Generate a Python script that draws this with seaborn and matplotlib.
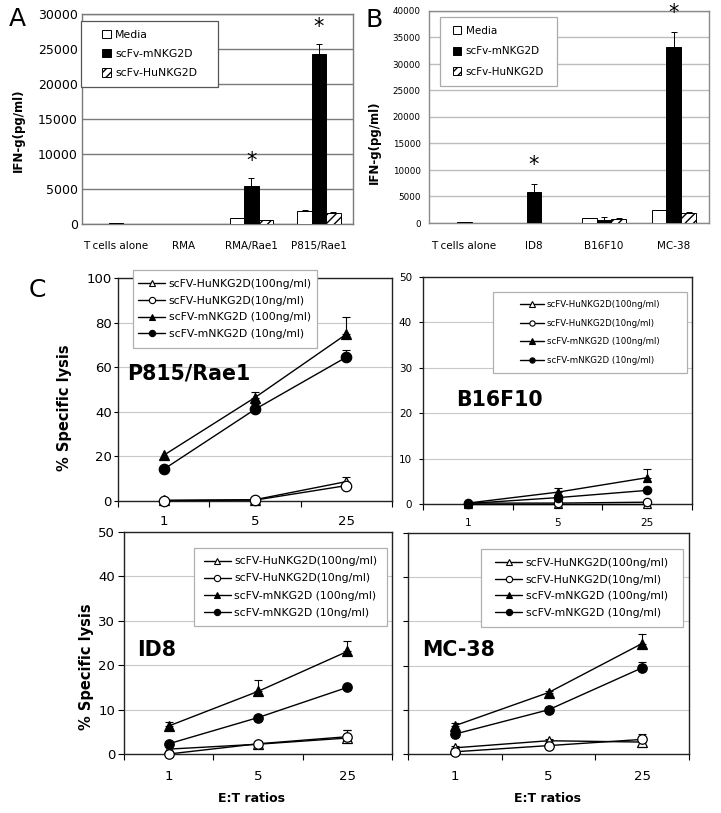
import numpy as np
import pandas as pd
import matplotlib
matplotlib.use("Agg")
import matplotlib.pyplot as plt
import seaborn as sns
from matplotlib.patches import Rectangle, Patch
from matplotlib.lines import Line2D
from matplotlib.ticker import FixedLocator, MultipleLocator

# ---------------- Data ----------------
groups = ["Media", "scFv-mNKG2D", "scFv-HuNKG2D"]

cats_A = ["T cells alone", "RMA", "RMA/Rae1", "P815/Rae1"]
media_A = [20, 10, 850, 1850]
media_A_err = [0, 0, 60, 80]
mNK_A = [90, 70, 5400, 24300]
mNK_A_err = [0, 0, 1130, 1450]
huNK_A = [10, 10, 570, 1600]
huNK_A_err = [0, 0, 70, 100]
sig_A = [False, False, True, True]

cats_B = ["T cells alone", "ID8", "B16F10", "MC-38"]
media_B = [20, 30, 880, 2400]
media_B_err = [0, 0, 60, 80]
mNK_B = [100, 5830, 560, 33300]
mNK_B_err = [0, 1500, 500, 2800]
huNK_B = [10, 30, 800, 1900]
huNK_B_err = [0, 0, 80, 120]
sig_B = [False, True, False, True]

ratios = ["1", "5", "25"]
series_labels = ["scFV-HuNKG2D(100ng/ml)", "scFV-HuNKG2D(10ng/ml)",
                 "scFV-mNKG2D (100ng/ml)", "scFV-mNKG2D (10ng/ml)"]

P815_hu100 = [0.3, 0.6, 8.7]
P815_hu100_err = [0, 0, 2.2]
P815_hu10 = [0.2, 0.4, 6.9]
P815_hu10_err = [0, 0, 0]
P815_m100 = [20.5, 46.4, 74.8]
P815_m100_err = [0, 2.6, 7.6]
P815_m10 = [14.2, 41.1, 64.5]
P815_m10_err = [0, 2.3, 3.0]

B16_hu100 = [0.1, 0.1, 0.1]
B16_hu100_err = [0, 0, 0]
B16_hu10 = [0.2, 0.2, 0.4]
B16_hu10_err = [0, 0, 0]
B16_m100 = [0.2, 2.6, 5.8]
B16_m100_err = [0, 1.0, 2.0]
B16_m10 = [0.1, 1.4, 3.0]
B16_m10_err = [0, 0.6, 0]

ID8_hu100 = [1.1, 2.2, 3.6]
ID8_hu100_err = [0, 0.5, 1.8]
ID8_hu10 = [0.0, 2.3, 3.9]
ID8_hu10_err = [0, 0.6, 1.5]
ID8_m100 = [6.3, 14.1, 23.1]
ID8_m100_err = [0.9, 2.5, 2.4]
ID8_m10 = [2.3, 8.2, 15.0]
ID8_m10_err = [0, 0, 0]

MC38_hu100 = [1.4, 3.0, 2.7]
MC38_hu100_err = [0.5, 0.4, 0.6]
MC38_hu10 = [0.5, 1.9, 3.3]
MC38_hu10_err = [0, 0, 1.2]
MC38_m100 = [6.4, 13.9, 25.0]
MC38_m100_err = [0.6, 0.4, 2.1]
MC38_m10 = [4.5, 10.0, 19.5]
MC38_m10_err = [0, 0, 1.4]

# ---------------- Style ----------------
sns.set_theme(style="ticks")
plt.rcParams["font.family"] = ["DejaVu Sans"]
plt.rcParams["text.color"] = "black"
plt.rcParams["axes.labelcolor"] = "black"
plt.rcParams["xtick.color"] = "black"
plt.rcParams["ytick.color"] = "black"
plt.rcParams["hatch.linewidth"] = 1.0

W, H = 721, 813
fig = plt.figure(figsize=(W / 100, H / 100), dpi=100)


def add_ax(box):
    L, T, R, B = box
    return fig.add_axes([L / W, 1 - B / H, (R - L) / W, (B - T) / H])


def frac(box, px, py):
    L, T, R, B = box
    return (px - L) / (R - L), (B - py) / (B - T)


def framed_legend(ax, box, rect, handles, labels, fontsize, labelspacing,
                  handlelength, handletextpad, edgecolor, handleheight=0.7):
    x0, y0, x1, y1 = rect
    fx0, fy1 = frac(box, x0, y0)
    fx1, fy0 = frac(box, x1, y1)
    ax.add_patch(Rectangle((fx0, fy0), fx1 - fx0, fy1 - fy0, transform=ax.transAxes,
                           facecolor="white", edgecolor=edgecolor, lw=0.9,
                           zorder=4, clip_on=False))
    leg = ax.legend(handles, labels, loc="center",
                    bbox_to_anchor=((fx0 + fx1) / 2, (fy0 + fy1) / 2),
                    bbox_transform=ax.transAxes, frameon=False, fontsize=fontsize,
                    labelspacing=labelspacing, handlelength=handlelength,
                    handleheight=handleheight, handletextpad=handletextpad,
                    borderpad=0)
    leg.set_zorder(5)
    return leg


def bar_panel(box, cats, vals, errs, sig, ymax, ytick_size, grid_color,
              spine_color, star_frac, xpad, ypad):
    ax = add_ax(box)
    rows = []
    for g, v in zip(groups, vals):
        for c, x in zip(cats, v):
            rows.append({"cat": c, "group": g, "val": x})
    df = pd.DataFrame(rows)
    sns.barplot(data=df, x="cat", y="val", hue="group", order=cats, hue_order=groups,
                palette=["white", "black", "white"], saturation=1, edgecolor="black",
                linewidth=0.7, width=0.64, errorbar=None, legend=False, ax=ax, zorder=3)
    bars = sorted(ax.patches, key=lambda p: p.get_x())
    n = len(cats)
    for ci in range(n):
        for gi in range(3):
            p = bars[ci * 3 + gi]
            if gi == 2:
                p.set_hatch("////")
            e = errs[gi][ci]
            if e > 0:
                xc = p.get_x() + p.get_width() / 2
                ax.errorbar([xc], [vals[gi][ci]], yerr=[[0], [e]], fmt="none",
                            ecolor="black", elinewidth=0.7, capsize=2.5,
                            capthick=0.7, zorder=4)
        if sig[ci]:
            p = bars[ci * 3 + 1]
            xc = p.get_x() + p.get_width() / 2
            ax.text(xc, vals[1][ci] + errs[1][ci] + star_frac * ymax, "*",
                    ha="center", va="center", fontsize=15)
    ax.set_ylim(0, ymax)
    ax.yaxis.set_major_locator(MultipleLocator(5000))
    ax.yaxis.grid(True, color=grid_color, lw=1.0)
    ax.set_axisbelow(True)
    for s in ax.spines.values():
        s.set_color(spine_color)
        s.set_linewidth(1.0)
    ax.set_xlabel("")
    ax.set_ylabel("")
    ax.tick_params(axis="x", length=0, pad=xpad, labelsize=7.5)
    ax.tick_params(axis="y", length=0, pad=ypad, labelsize=ytick_size)
    return ax


bar_handles = [Patch(facecolor="white", edgecolor="black", lw=0.7),
               Patch(facecolor="black", edgecolor="black", lw=0.7),
               Patch(facecolor="white", edgecolor="black", lw=0.7, hatch="////")]

# ---------------- Panel A ----------------
boxA = (82, 14, 353, 224)
axA = bar_panel(boxA, cats_A, [media_A, mNK_A, huNK_A],
                [media_A_err, mNK_A_err, huNK_A_err], sig_A, 30000, 9,
                "#7a7a7a", "#7a7a7a", 0.08, 12, 3)
axA.set_ylabel("IFN-g(pg/ml)", fontsize=8.5, fontweight="bold")
axA.yaxis.set_label_coords(*frac(boxA, 25, 130))
framed_legend(axA, boxA, (81, 21, 218, 87), bar_handles, groups, 7.8, 0.85,
              0.8, 0.4, "#555555", handleheight=0.8)

# ---------------- Panel B ----------------
boxB = (429, 11, 709, 223)
axB = bar_panel(boxB, cats_B, [media_B, mNK_B, huNK_B],
                [media_B_err, mNK_B_err, huNK_B_err], sig_B, 40000, 6.3,
                "#bdbdbd", "#8a8a8a", 0.09, 13, 6)
axB.set_ylabel("IFN-g(pg/ml)", fontsize=8.5, fontweight="bold")
axB.yaxis.set_label_coords(*frac(boxB, 381, 142))
framed_legend(axB, boxB, (440, 17, 557, 86), bar_handles, groups, 7.5, 1.0,
              0.8, 0.4, "#aaaaaa", handleheight=0.8)

fig.text(17 / W, 1 - 19 / H, "A", fontsize=18, ha="center", va="center")
fig.text(374 / W, 1 - 20 / H, "B", fontsize=18, ha="center", va="center")
fig.text(37 / W, 1 - 290 / H, "C", fontsize=18, ha="center", va="center")

# ---------------- Panel C ----------------
markers = ["^", "o", "^", "o"]
faces = ["white", "white", "black", "black"]


def lysis_panel(box, vals, errs, ymax, ystep, ms, title, title_pos, title_size,
                tick_size, xpad, leg_rect, leg_size, leg_spacing, leg_hl, leg_ms,
                ytick_len, ypad, show_ylabels=True):
    ax = add_ax(box)
    for v, e, mk, fc in zip(vals, errs, markers, faces):
        sns.pointplot(x=ratios, y=v, order=ratios, color="black", markers=mk,
                      linestyles="-", errorbar=None, markersize=ms,
                      markerfacecolor=fc, markeredgecolor="black",
                      markeredgewidth=0.9, linewidth=1.0, clip_on=False,
                      zorder=3, ax=ax)
        idx = [i for i in range(len(ratios)) if e[i] > 0]
        if idx:
            ax.errorbar(idx, [v[i] for i in idx], yerr=[[0] * len(idx), [e[i] for i in idx]],
                        fmt="none", ecolor="black", elinewidth=0.8, capsize=3,
                        capthick=0.8, zorder=2.5)
    ax.set_xlim(-0.5, len(ratios) - 0.5)
    ax.set_ylim(0, ymax)
    ax.yaxis.set_major_locator(MultipleLocator(ystep))
    ax.yaxis.grid(True, color="#c8c8c8", lw=0.8)
    ax.set_axisbelow(True)
    for s in ax.spines.values():
        s.set_color("#222222")
        s.set_linewidth(1.0)
    ax.set_xlabel("")
    ax.set_ylabel("")
    ax.xaxis.set_minor_locator(FixedLocator([-0.5 + i for i in range(len(ratios) + 1)]))
    ax.tick_params(axis="x", which="major", length=0, pad=xpad, labelsize=tick_size)
    ax.tick_params(axis="x", which="minor", length=4, width=0.8, direction="out",
                   bottom=True)
    ax.tick_params(axis="y", which="major", length=ytick_len, width=0.8,
                   direction="out", pad=ypad, labelsize=tick_size,
                   labelleft=show_ylabels, left=True)
    tx, ty = frac(box, *title_pos)
    ax.text(tx, ty, title, transform=ax.transAxes, fontsize=title_size,
            fontweight="bold", ha="center", va="center", zorder=6)
    handles = [Line2D([0], [0], color="black", lw=1.0, marker=mk, ms=leg_ms,
                      mfc=fc, mec="black", mew=0.8) for mk, fc in zip(markers, faces)]
    framed_legend(ax, box, leg_rect, handles, series_labels, leg_size, leg_spacing,
                  leg_hl, 0.3, "#b0b0b0")
    return ax


boxP = (118, 278, 392, 501)
axP = lysis_panel(boxP, [P815_hu100, P815_hu10, P815_m100, P815_m10],
                  [P815_hu100_err, P815_hu10_err, P815_m100_err, P815_m10_err],
                  100, 20, 7.5, "P815/Rae1", (189, 373), 14.8, 9.5, 10,
                  (133, 270, 317, 348), 7.8, 0.63, 2.5, 4.5, 3, 1.5)
axP.set_ylabel("% Specific lysis", fontsize=10.5, fontweight="bold")
axP.yaxis.set_label_coords(*frac(boxP, 72, 408))

boxBF = (423, 277, 692, 504)
axBF = lysis_panel(boxBF, [B16_hu100, B16_hu10, B16_m100, B16_m10],
                   [B16_hu100_err, B16_hu10_err, B16_m100_err, B16_m10_err],
                   50, 10, 6, "B16F10", (499, 400), 14.8, 7.5, 10,
                   (493, 292, 687, 373), 6.2, 1.15, 2.8, 3.8, 3, 5)

boxI = (124, 532, 392, 754)
axI = lysis_panel(boxI, [ID8_hu100, ID8_hu10, ID8_m100, ID8_m10],
                  [ID8_hu100_err, ID8_hu10_err, ID8_m100_err, ID8_m10_err],
                  50, 10, 6.8, "ID8", (157, 650), 14.8, 9.5, 11.5,
                  (194, 548, 387, 626), 7.8, 0.65, 2.5, 4.5, 4.3, 2)
axI.set_ylabel("% Specific lysis", fontsize=10.5, fontweight="bold")
axI.yaxis.set_label_coords(*frac(boxI, 94, 667))
axI.set_xlabel("E:T ratios", fontsize=9, fontweight="bold")
axI.xaxis.set_label_coords(*frac(boxI, 252, 792))

boxM = (408, 533, 689, 754)
axM = lysis_panel(boxM, [MC38_hu100, MC38_hu10, MC38_m100, MC38_m10],
                  [MC38_hu100_err, MC38_hu10_err, MC38_m100_err, MC38_m10_err],
                  50, 10, 6.8, "MC-38", (459, 650), 14.8, 9.5, 11.5,
                  (481, 549, 683, 627), 7.8, 0.6, 2.5, 4.5, 3.6, 2,
                  show_ylabels=False)
axM.set_xlabel("E:T ratios", fontsize=9, fontweight="bold")
axM.xaxis.set_label_coords(*frac(boxM, 547, 792))

fig.savefig("out.png", dpi=100)
